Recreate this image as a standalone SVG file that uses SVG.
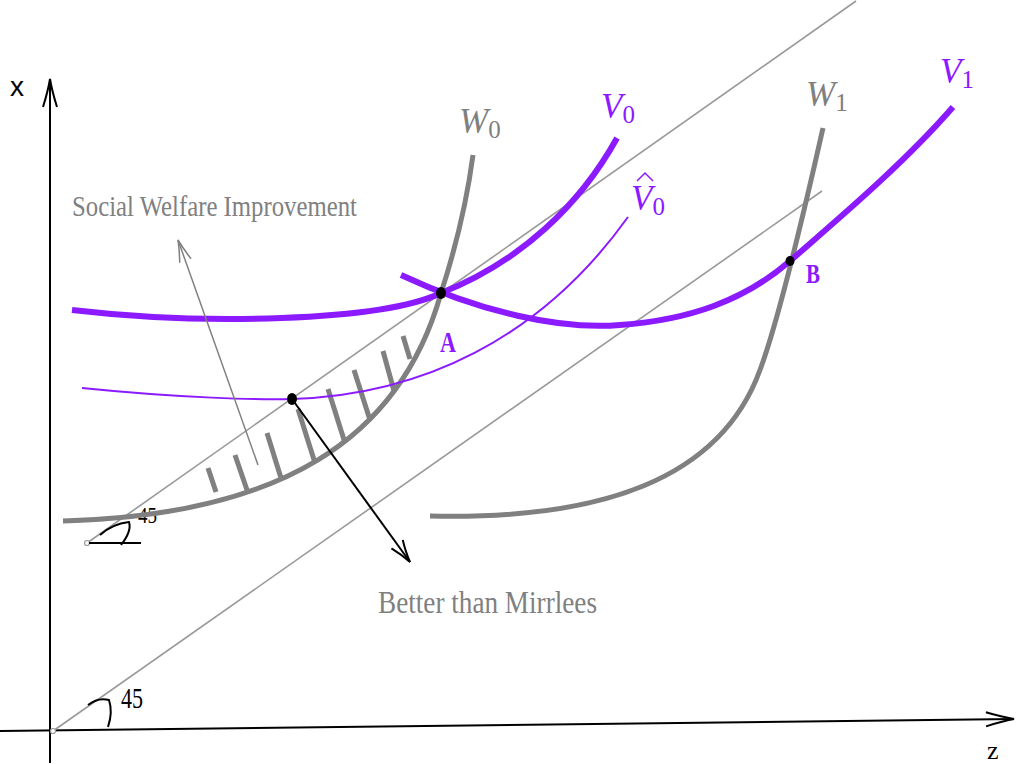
<svg xmlns="http://www.w3.org/2000/svg" width="1017" height="764" viewBox="0 0 1017 764">
<style>
.axis{stroke:#000;stroke-width:2;fill:none}
.thin{stroke:#999;stroke-width:1.6;fill:none}
.wcurve{stroke:#808080;stroke-width:5;fill:none}
.vthick{stroke:#8c1aff;stroke-width:6;fill:none}
.vthin{stroke:#8c1aff;stroke-width:2;fill:none}
.hatch{stroke:#808080;stroke-width:5;fill:none}
.gray{fill:#808080}
.purple{fill:#8c1aff}
</style>
<defs>
<marker id="arrAxis" viewBox="-32 -10 34 20" refX="0" refY="0" markerWidth="34" markerHeight="20" markerUnits="userSpaceOnUse" orient="auto">
<path d="M -28 -7 Q -12 -2 0 0 Q -12 2 -28 7" stroke="#000" stroke-width="2" fill="none"/>
</marker>
<marker id="arrBlack" viewBox="-26 -10 28 20" refX="0" refY="0" markerWidth="28" markerHeight="20" markerUnits="userSpaceOnUse" orient="auto">
<path d="M -22 -7 Q -10 -2 0 0 Q -10 2 -22 7" stroke="#000" stroke-width="2" fill="none"/>
</marker>
<marker id="arrGray" viewBox="-26 -10 28 20" refX="0" refY="0" markerWidth="28" markerHeight="20" markerUnits="userSpaceOnUse" orient="auto">
<path d="M -22 -6 Q -10 -2 0 0 Q -10 2 -22 6" stroke="#808080" stroke-width="1.5" fill="none"/>
</marker>
</defs>

<g id="axes">
<line class="axis" x1="50" y1="763" x2="50" y2="79" marker-end="url(#arrAxis)"/>
<line class="axis" x1="0" y1="731" x2="1014" y2="719" marker-end="url(#arrAxis)"/>
<text x="10" y="96" font-family="'Liberation Sans', sans-serif" font-size="28" fill="#000">x</text>
<text x="987" y="759" font-family="'Liberation Serif', serif" font-size="26" fill="#000">z</text>
</g>

<g id="lines45">
<line class="thin" x1="87" y1="543" x2="856" y2="1"/>
<line class="thin" x1="53" y1="731" x2="822" y2="191"/>
<circle cx="87" cy="543" r="2.5" fill="#fff" stroke="#999" stroke-width="1.2"/>
<circle cx="53" cy="731" r="2.5" fill="#fff" stroke="#999" stroke-width="1.2"/>
</g>

<g id="angle-upper">
<line x1="89" y1="543" x2="141" y2="543" stroke="#000" stroke-width="2"/>
<path d="M 100 535 Q 112 524 129 522 Q 132 531 121 545" stroke="#000" stroke-width="2" fill="none"/>
<text x="138" y="523" font-family="'Liberation Serif', serif" font-size="23" textLength="19" lengthAdjust="spacingAndGlyphs" fill="#000">45</text>
</g>

<g id="angle-lower">
<path d="M 88 705 Q 98 697 109 700 Q 113 712 108 727" stroke="#000" stroke-width="2" fill="none"/>
<text x="121" y="708" font-family="'Liberation Serif', serif" font-size="30" textLength="22" lengthAdjust="spacingAndGlyphs" fill="#000">45</text>
</g>

<g id="hatching">
<line class="hatch" x1="208" y1="468" x2="216" y2="492"/>
<line class="hatch" x1="235" y1="455" x2="247" y2="490"/>
<line class="hatch" x1="267" y1="433" x2="281" y2="478"/>
<line class="hatch" x1="298" y1="409" x2="315" y2="463"/>
<line class="hatch" x1="328" y1="389" x2="345" y2="443"/>
<line class="hatch" x1="354" y1="370" x2="370" y2="420"/>
<line class="hatch" x1="383" y1="351" x2="394" y2="391"/>
<line class="hatch" x1="403" y1="336" x2="410" y2="359"/>
</g>

<g id="W0">
<path class="wcurve" d="M 63 521 C 280 515 400 440 441 293 C 455 250 467 200 473 155"/>
<text x="459" y="133" class="gray" font-family="'Liberation Serif', serif" font-size="35" font-style="italic">W<tspan font-style="normal" font-size="25" dy="5">0</tspan></text>
</g>

<g id="W1">
<path class="wcurve" d="M 430 516 C 600 520 720 480 760 370 C 775 330 800 230 823 128"/>
<text x="806" y="106" class="gray" font-family="'Liberation Serif', serif" font-size="35" font-style="italic">W<tspan font-style="normal" font-size="25" dy="5">1</tspan></text>
</g>

<g id="V0">
<path class="vthick" d="M 72 310 C 200 325 380 322 441 293 C 520 262 580 205 617 138"/>
<text x="601" y="118" class="purple" font-family="'Liberation Serif', serif" font-size="35" font-style="italic">V<tspan font-style="normal" font-size="25" dy="5">0</tspan></text>
</g>

<g id="V0hat">
<path class="vthin" d="M 82 388 C 180 398 260 400 292 399 C 420 395 540 340 628 217"/>
<text x="631" y="210" class="purple" font-family="'Liberation Serif', serif" font-size="35" font-style="italic">V<tspan font-style="normal" font-size="25" dy="5">0</tspan></text>
<path d="M 637 181 L 645 173 L 653 181" stroke="#8c1aff" stroke-width="1.5" fill="none"/>
</g>

<g id="V1">
<path class="vthick" d="M 401 275 C 480 312 560 330 620 325 C 690 320 745 300 790 261 C 825 230 900 168 953 107"/>
<text x="940" y="83" class="purple" font-family="'Liberation Serif', serif" font-size="35" font-style="italic">V<tspan font-style="normal" font-size="25" dy="5">1</tspan></text>
</g>

<g id="pointA">
<ellipse cx="441" cy="293" rx="5" ry="6" fill="#000"/>
<text x="440" y="352" class="purple" font-family="'Liberation Serif', serif" font-size="30" font-weight="bold" textLength="16" lengthAdjust="spacingAndGlyphs">A</text>
</g>

<g id="pointB">
<ellipse cx="790" cy="261" rx="4.5" ry="5" fill="#000"/>
<text x="806" y="283" class="purple" font-family="'Liberation Serif', serif" font-size="28" font-weight="bold" textLength="14" lengthAdjust="spacingAndGlyphs">B</text>
</g>

<g id="pointM">
<ellipse cx="292" cy="399" rx="5" ry="6" fill="#000"/>
</g>

<g id="connectors">
<line x1="258" y1="465" x2="178" y2="240" stroke="#808080" stroke-width="1.5" marker-end="url(#arrGray)"/>
<line x1="292" y1="399" x2="410" y2="562" stroke="#000" stroke-width="2" marker-end="url(#arrBlack)"/>
</g>

<g id="label-swi">
<text x="72" y="216" class="gray" font-family="'Liberation Serif', serif" font-size="30" textLength="285" lengthAdjust="spacingAndGlyphs">Social Welfare Improvement</text>
</g>
<g id="label-btm">
<text x="378" y="613" class="gray" font-family="'Liberation Serif', serif" font-size="31" textLength="219" lengthAdjust="spacingAndGlyphs">Better than Mirrlees</text>
</g>
</svg>
